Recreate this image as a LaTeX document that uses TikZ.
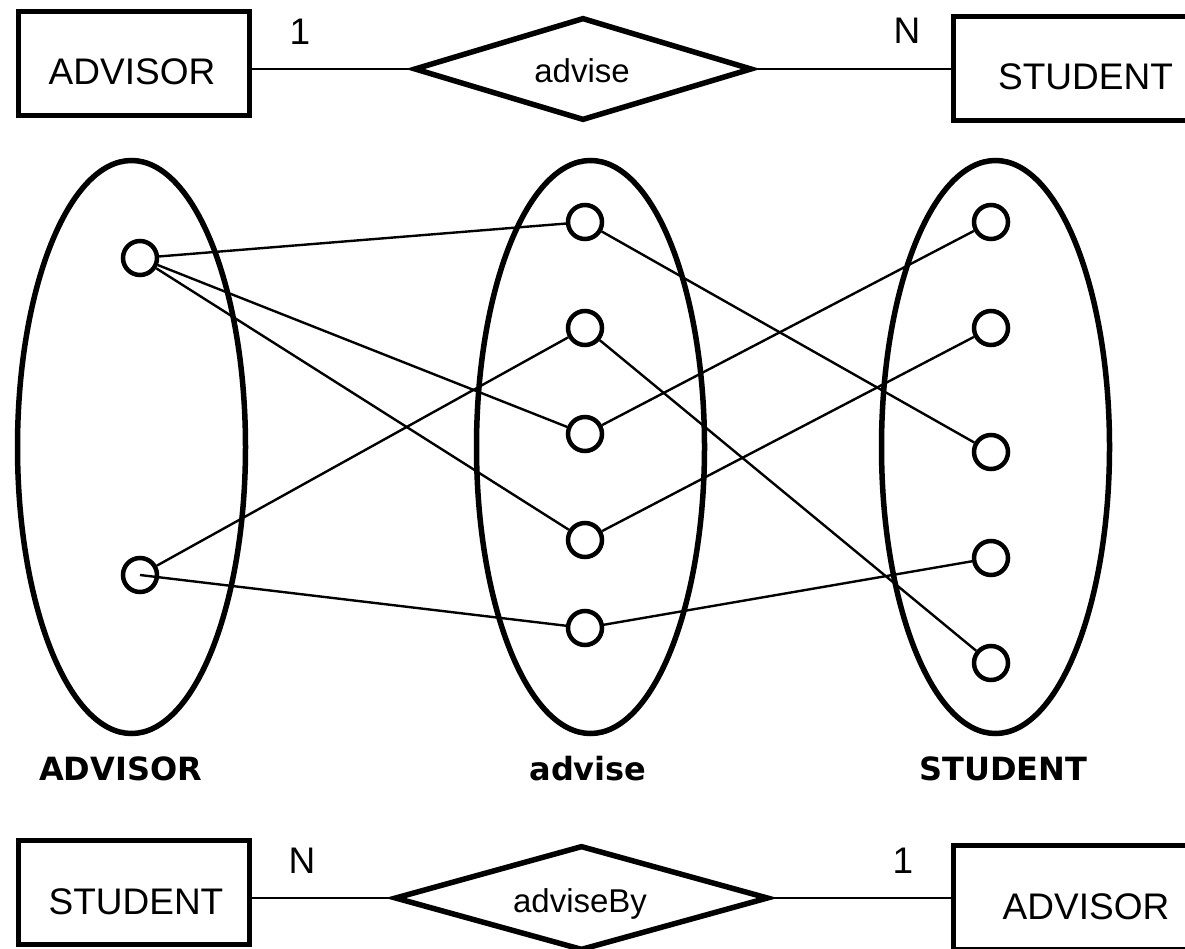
\documentclass[tikz,border=0pt]{standalone}
\usepackage{fontspec}
\setmainfont{Liberation Sans}
\newfontfamily\setfont{DejaVu Sans}
\usetikzlibrary{shapes.geometric}
\begin{document}
\begin{tikzpicture}[x=1pt,y=-1pt,
  entity/.style={draw, line width=5.5pt, rectangle, minimum width=231pt, minimum height=104pt, inner sep=0pt},
  relation/.style={draw, line width=5.5pt, diamond, inner sep=0pt},
  etext/.style={anchor=base, font=\fontsize{37}{40}\selectfont, inner sep=0pt},
  rtext/.style={anchor=base, font=\fontsize{33}{36}\selectfont, inner sep=0pt},
  setshape/.style={draw, line width=5.5pt, ellipse, minimum width=228pt, minimum height=573pt, inner sep=0pt},
  elem/.style={draw, line width=4.5pt, circle, minimum size=34pt, inner sep=0pt},
  setname/.style={anchor=base, font=\setfont\bfseries\fontsize{32}{36}\selectfont, inner sep=0pt},
  link/.style={line width=2.4pt},
  erline/.style={line width=2.8pt}]
\useasboundingbox (0,0) rectangle (1185,949);
\clip (0,0) rectangle (1185,949);

% ---- ER diagram: ADVISOR 1 -- advise -- N STUDENT
\node[entity] (advT) at (134,63.5) {};
\node[etext] (advTt) at (132,85) {ADVISOR};
\node[relation, minimum width=338pt, minimum height=103pt] (dT) at (583,69) {};
\node[rtext] (dTt) at (582,82.7) {advise};
\node[entity, minimum width=260pt] (stdT) at (1083.5,68.5) {};
\node[etext] (stdTt) at (1085.5,90) {STUDENT};
\node[etext] (c1T) at (300,45) {1};
\node[etext] (cNT) at (907,44) {N};
\draw[erline] (advT.east |- dT.west) -- (dT.west);
\draw[erline] (dT.east) -- (stdT.west |- dT.east);

% ---- instance sets
\node[setshape] (setA) at (131.5,447) {};
\node[setshape] (setR) at (590.5,447) {};
\node[setshape] (setS) at (995.5,447) {};

\node[elem] (a1) at (140,258) {};
\node[elem] (a2) at (140,575) {};

\node[elem] (m1) at (585,222) {};
\node[elem] (m2) at (585,328) {};
\node[elem] (m3) at (585,434) {};
\node[elem] (m4) at (585,540) {};
\node[elem] (m5) at (585,628) {};

\node[elem] (s1) at (991,222) {};
\node[elem] (s2) at (991,328) {};
\node[elem] (s3) at (991,452) {};
\node[elem] (s4) at (991,558) {};
\node[elem] (s5) at (991,663) {};

\draw[link] (a1) -- (m1);
\draw[link] (a1) -- (m3);
\draw[link] (a1) -- (m4);
\draw[link] (a2) -- (m2);
\draw[link] (a2.center) -- (m5);
\draw[link] (m1) -- (s3);
\draw[link] (m2) -- (s5);
\draw[link] (m3) -- (s1);
\draw[link] (m4) -- (s2);
\draw[link] (m5) -- (s4);

\node[setname] (nA) at (120.5,780) {ADVISOR};
\node[setname] (nR) at (588,780) {advise};
\node[setname] (nS) at (1003.5,780) {STUDENT};

% ---- ER diagram: STUDENT N -- adviseBy -- 1 ADVISOR
\node[entity] (stdB) at (134,892.5) {};
\node[etext] (stdBt) at (136,914) {STUDENT};
\node[relation, minimum width=374pt, minimum height=105pt] (dB) at (581.5,898) {};
\node[rtext] (dBt) at (580,912) {adviseBy};
\node[entity, minimum width=260pt] (advB) at (1083.5,897.5) {};
\node[etext] (advBt) at (1086,919) {ADVISOR};
\node[etext] (cNB) at (302,873) {N};
\node[etext] (c1B) at (903,873) {1};
\draw[erline] (stdB.east |- dB.west) -- (dB.west);
\draw[erline] (dB.east) -- (advB.west |- dB.east);
\end{tikzpicture}
\end{document}
